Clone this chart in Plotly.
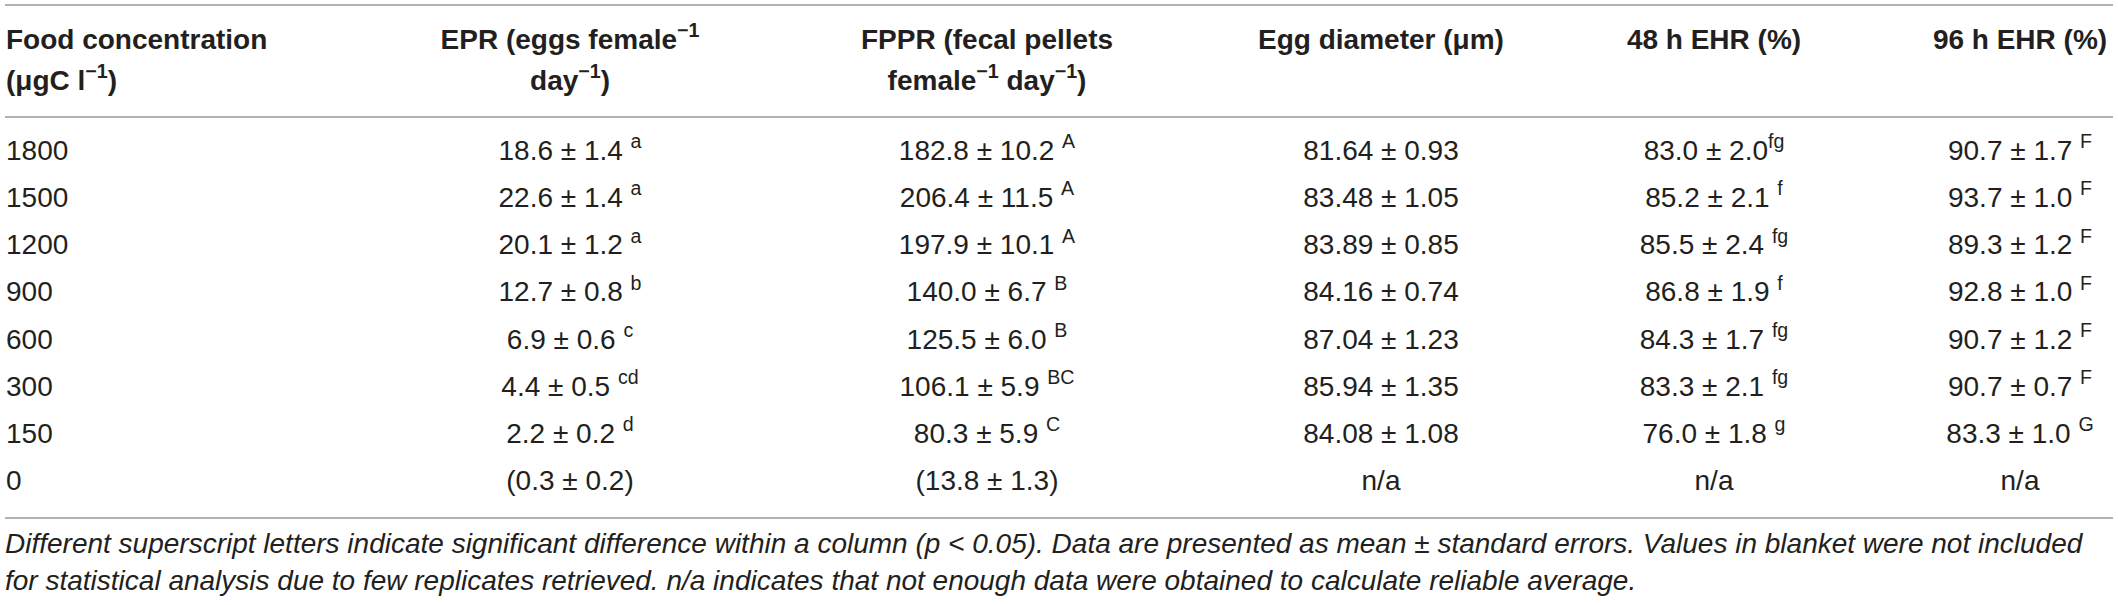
import plotly.graph_objects as go

# table values
food_conc = ["1800", "1500", "1200", "900", "600", "300", "150", "0"]

epr_mean = [18.6, 22.6, 20.1, 12.7, 6.9, 4.4, 2.2, 0.3]
epr_se = [1.4, 1.4, 1.2, 0.8, 0.6, 0.5, 0.2, 0.2]
epr_sig = ["a", "a", "a", "b", "c", "cd", "d", None]

fppr_mean = [182.8, 206.4, 197.9, 140.0, 125.5, 106.1, 80.3, 13.8]
fppr_se = [10.2, 11.5, 10.1, 6.7, 6.0, 5.9, 5.9, 1.3]
fppr_sig = ["A", "A", "A", "B", "B", "BC", "C", None]

egg_mean = [81.64, 83.48, 83.89, 84.16, 87.04, 85.94, 84.08, None]
egg_se = [0.93, 1.05, 0.85, 0.74, 1.23, 1.35, 1.08, None]

ehr48_mean = [83.0, 85.2, 85.5, 86.8, 84.3, 83.3, 76.0, None]
ehr48_se = [2.0, 2.1, 2.4, 1.9, 1.7, 2.1, 1.8, None]
ehr48_sig = ["fg", "f", "fg", "f", "fg", "fg", "g", None]

ehr96_mean = [90.7, 93.7, 89.3, 92.8, 90.7, 90.7, 83.3, None]
ehr96_se = [1.7, 1.0, 1.2, 1.0, 1.2, 0.7, 1.0, None]
ehr96_sig = ["F", "F", "F", "F", "F", "F", "G", None]

# header lines (two rows of header text)
header_top = ["Food concentration", "EPR (eggs female<sup>\u22121</sup>",
              "FPPR (fecal pellets", "Egg diameter (\u03bcm)",
              "48 h EHR (%)", "96 h EHR (%)"]
header_bottom = ["(\u03bcgC l<sup>\u22121</sup>)", "day<sup>\u22121</sup>)",
                 "female<sup>\u22121</sup> day<sup>\u22121</sup>)", "", "", ""]

footnote = [
    "Different superscript letters indicate significant difference within a column (p &lt; 0.05). "
    "Data are presented as mean \u00b1 standard errors. Values in blanket were not included",
    "for statistical analysis due to few replicates retrieved. n/a indicates that not enough "
    "data were obtained to calculate reliable average.",
]


def cell(mean, se, sig, dec=1, space=True):
    if mean is None:
        return "n/a"
    txt = f"{mean:.{dec}f} \u00b1 {se:.{dec}f}"
    if sig is None:
        return f"({txt})"
    gap = " " if space else ""
    return f"{txt}{gap}<sup>{sig}</sup>"


epr_txt = [cell(m, s, g) for m, s, g in zip(epr_mean, epr_se, epr_sig)]
fppr_txt = [cell(m, s, g) for m, s, g in zip(fppr_mean, fppr_se, fppr_sig)]
egg_txt = ["n/a" if m is None else f"{m:.2f} \u00b1 {s:.2f}" for m, s in zip(egg_mean, egg_se)]
ehr48_txt = [cell(m, s, g, space=(i != 0)) for i, (m, s, g) in enumerate(zip(ehr48_mean, ehr48_se, ehr48_sig))]
ehr96_txt = [cell(m, s, g) for m, s, g in zip(ehr96_mean, ehr96_se, ehr96_sig)]

columns = [food_conc, epr_txt, fppr_txt, egg_txt, ehr48_txt, ehr96_txt]

# layout, in pixel units of the 2118 x 605 page
W, H = 2118, 605
col_x = [6, 570, 987, 1381, 1714, 2020]
row_y0, row_h = 153, 47.15
head_y = [42, 83]
rule_y = [5, 117, 518]
foot_y = [546, 583]
FONT = "Liberation Sans, Arial, sans-serif"
FS = 28
TXT = "#231f20"

fig = go.Figure()

for j, vals in enumerate(columns):
    pos = "middle right" if j == 0 else "middle center"
    ys = [row_y0 + i * row_h for i in range(len(vals))]
    fig.add_trace(go.Scatter(
        x=[col_x[j]] * len(vals), y=ys, text=vals, mode="text",
        textposition=pos, textfont=dict(family=FONT, size=FS, color=TXT),
        hoverinfo="skip", showlegend=False, cliponaxis=False))

    # header cells
    heads = [(y, h) for y, h in zip(head_y, [header_top[j], header_bottom[j]]) if h]
    fig.add_trace(go.Scatter(
        x=[col_x[j]] * len(heads), y=[y for y, _ in heads],
        text=[f"<b>{h}</b>" for _, h in heads],
        mode="text", textposition=pos,
        textfont=dict(family=FONT, size=FS, color=TXT),
        hoverinfo="skip", showlegend=False, cliponaxis=False))

# footnote
fig.add_trace(go.Scatter(
    x=[5] * len(footnote), y=foot_y, text=[f"<i>{t}</i>" for t in footnote],
    mode="text", textposition="middle right",
    textfont=dict(family=FONT, size=FS, color=TXT),
    hoverinfo="skip", showlegend=False, cliponaxis=False))

# horizontal rules
for y in rule_y:
    fig.add_shape(type="line", x0=5, x1=2113, y0=y, y1=y, xref="x", yref="y",
                  line=dict(color="#9a9a9a", width=1.5))

fig.update_layout(
    width=W, height=H,
    margin=dict(l=0, r=0, t=0, b=0),
    paper_bgcolor="white", plot_bgcolor="white",
    xaxis=dict(range=[0, W], visible=False, fixedrange=True),
    yaxis=dict(range=[H, 0], visible=False, fixedrange=True),
)

# drop the browser's default body margin so the figure fills the window
fig.write_html("out.html", config={"displayModeBar": False},
               post_script="document.body.style.margin='0';document.body.style.overflow='hidden';")
